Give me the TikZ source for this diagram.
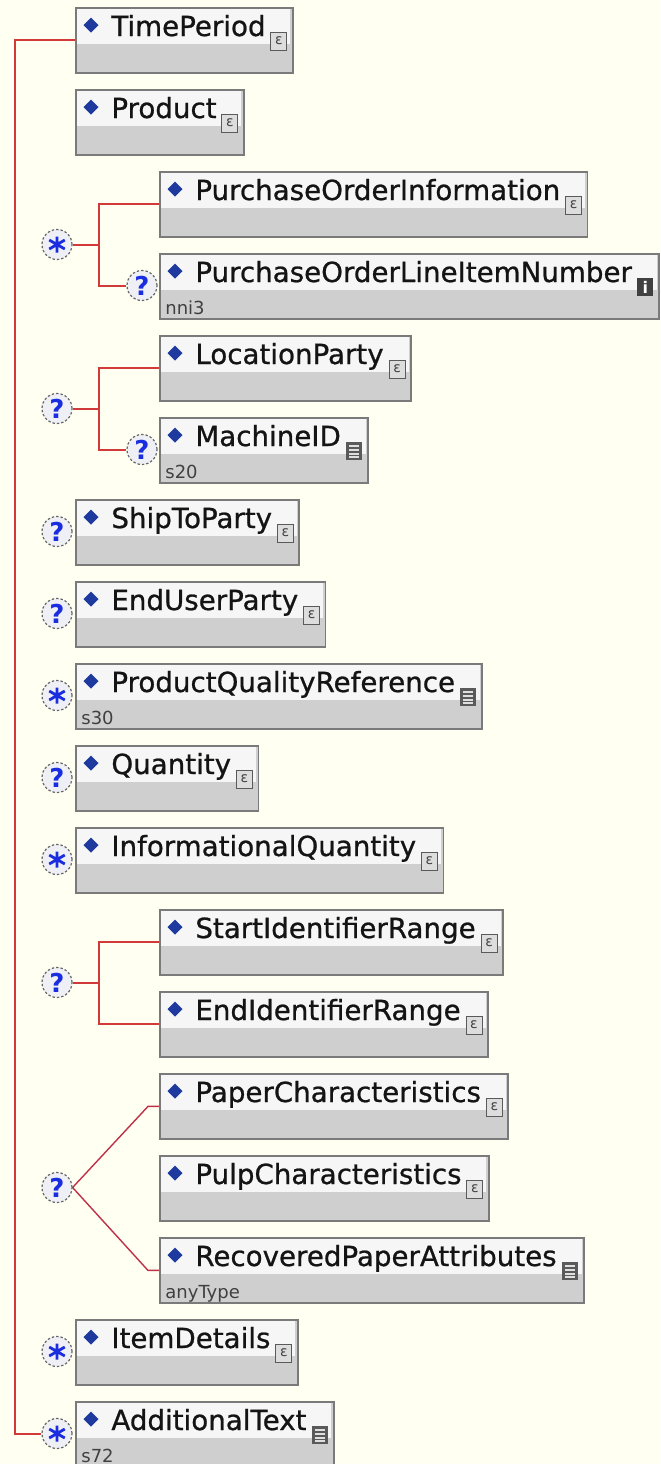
\documentclass[tikz,border=0pt]{standalone}
\usepackage{fontspec}
\setmainfont{DejaVu Sans}
\newfontfamily\ttlfont[FakeBold=0.8]{DejaVu Sans}
\usetikzlibrary{calc}
\definecolor{paperc}{HTML}{FFFFF2}
\definecolor{wirec}{HTML}{D23A3A}
\definecolor{cwirec}{HTML}{C03048}
\definecolor{boxborder}{HTML}{7A7A7A}
\definecolor{headc}{HTML}{F6F6F6}
\definecolor{bodyc}{HTML}{CFCFCF}
\definecolor{diac}{HTML}{1E3A9E}
\definecolor{sgnc}{HTML}{1A2EE0}
\definecolor{circc}{HTML}{EEF0F6}
\definecolor{subc}{HTML}{404040}
\definecolor{iconc}{HTML}{5A5A5A}
\pgfdeclarelayer{paper}\pgfdeclarelayer{wires}\pgfdeclarelayer{boxes}
\pgfsetlayers{paper,wires,boxes,main}
\newlength\ttlw
\tikzset{
 elbox/.style={draw=boxborder, line width=0.9pt, fill=bodyc, inner sep=0, anchor=north west},
 ttl/.style={font=\ttlfont\fontsize{13.85}{16}\selectfont, text=black!92, inner sep=0, anchor=base west},
 subt/.style={font=\fontsize{9}{10}\selectfont, text=subc, inner sep=0, anchor=base west},
 cmp/.style={circle, draw=gray!80!black, dash pattern=on 1.2pt off 1pt, line width=0.6pt, fill=circc, minimum size=15pt, inner sep=0},
 optc/.style={cmp, font=\bfseries\fontsize{13}{13}\selectfont, text=sgnc},
 wire/.style={draw=wirec, line width=1pt},
 cwire/.style={draw=cwirec, line width=0.7pt},
}
\newcommand\elicC[2]{%
 \filldraw[fill=bodyc!70!white, draw=iconc, line width=0.5pt] (#1,#2) rectangle ++(16,18);
 \node[font=\fontsize{7}{7}\selectfont, text=iconc!70!black, inner sep=0] at (#1+8,#2+9) {ɛ};}
\newcommand\elicS[2]{%
 \fill[iconc] (#1,#2) rectangle ++(16,18);
 \foreach \k in {4,8,12,15}{\draw[white!75!gray, line width=0.6pt] (#1+3,#2+\k) -- (#1+13,#2+\k);}}
\newcommand\elicI[2]{%
 \fill[black!75] (#1,#2) rectangle ++(16,18);
 \node[text=white, font=\bfseries\fontsize{8}{8}\selectfont, inner sep=0] at (#1+8,#2+9) {i};}
\newcommand\elem[6]{%
 \node[ttl] (#1-t) at (#2+36,#3+29) {#4};
 \pgfextractx{\ttlw}{\pgfpointanchor{#1-t}{east}}%
 \pgfmathsetmacro\bw{2*\ttlw+26-#2}%
 \begin{pgfonlayer}{boxes}
 \node[elbox, minimum width=\bw*0.5pt, minimum height=32.5pt] (#1) at (#2,#3) {};
 \fill[headc] (#2+1.5,#3+1.5) rectangle (#2+\bw-1.5,#3+37);
 \fill[diac] (#2+16,#3+10.5) -- (#2+23.5,#3+18) -- (#2+16,#3+25.5) -- (#2+8.5,#3+18) -- cycle;
 \end{pgfonlayer}
 \if\relax\detokenize{#5}\relax\else\node[subt] (#1-s) at (#2+6,#3+61) {#5};\fi
 \csname elic#6\endcsname{#2+\bw-21}{#3+25}%
}
\newcommand\starmark[1]{%
 \draw[sgnc, line width=1.4pt] ($(#1)+(0,-8)$) -- ($(#1)+(0,8)$)
   ($(#1)+(30:9)$) -- ($(#1)+(210:9)$)
   ($(#1)+(150:9)$) -- ($(#1)+(330:9)$);}
\begin{document}
\begin{tikzpicture}[x=0.5pt, y=-0.5pt]
\useasboundingbox (0,0) rectangle (660,1464);
\begin{pgfonlayer}{paper}\fill[paperc] (0,0) rectangle (660,1464);\end{pgfonlayer}
\elem{tp}{75}{7}{TimePeriod}{}{C}
\elem{prod}{75}{89}{Product}{}{C}
\elem{poi}{159}{171}{PurchaseOrderInformation}{}{C}
\elem{pol}{159}{253}{PurchaseOrderLineItemNumber}{nni3}{I}
\elem{loc}{159}{335}{LocationParty}{}{C}
\elem{mid}{159}{417}{MachineID}{s20}{S}
\elem{ship}{75}{499}{ShipToParty}{}{C}
\elem{endu}{75}{581}{EndUserParty}{}{C}
\elem{pqr}{75}{663}{ProductQualityReference}{s30}{S}
\elem{qty}{75}{745}{Quantity}{}{C}
\elem{iq}{75}{827}{InformationalQuantity}{}{C}
\elem{sir}{159}{909}{StartIdentifierRange}{}{C}
\elem{eir}{159}{991}{EndIdentifierRange}{}{C}
\elem{pch}{159}{1073}{PaperCharacteristics}{}{C}
\elem{pul}{159}{1155}{PulpCharacteristics}{}{C}
\elem{rpa}{159}{1237}{RecoveredPaperAttributes}{anyType}{S}
\elem{itd}{75}{1319}{ItemDetails}{}{C}
\elem{adt}{75}{1401}{AdditionalText}{s72}{S}
% compositor circles
\node[cmp] (poc) at (57,244.5) {}; \starmark{poc}
\node[optc] (polc) at (142,285.5) {?};
\node[optc] (locc) at (57,408.5) {?};
\node[optc] (midc) at (142,449.5) {?};
\node[optc] (shipc) at (57,531.5) {?};
\node[optc] (enduc) at (57,613.5) {?};
\node[cmp] (pqrc) at (57,695.5) {}; \starmark{pqrc}
\node[optc] (qtyc) at (57,777.5) {?};
\node[cmp] (iqc) at (57,859.5) {}; \starmark{iqc}
\node[optc] (rngc) at (57,982.5) {?};
\node[optc] (chc) at (57,1187.5) {?};
\node[cmp] (itdc) at (57,1351.5) {}; \starmark{itdc}
\node[cmp] (adtc) at (57,1433.5) {}; \starmark{adtc}
\coordinate (spx) at (15,0);
\coordinate (g1) at (99,244.5);
\coordinate (g2) at (99,408.5);
\coordinate (g3) at (99,982.5);
\coordinate (kx) at (148,0);
\begin{pgfonlayer}{wires}
\draw[wire] (tp.west) -- (tp.west -| spx) -- (adtc.west -| spx) -- (adtc.west);
\draw[wire] (poc.east) -- (g1);
\draw[wire] (poi.west) -| (g1) |- (polc.west);
\draw[wire] (locc.east) -- (g2);
\draw[wire] (loc.west) -| (g2) |- (midc.west);
\draw[wire] (rngc.east) -- (g3);
\draw[wire] (sir.west) -| (g3) |- (eir.west);
\draw[cwire] (pch.west) -- (pch.west -| kx) -- (chc.east) -- (rpa.west -| kx) -- (rpa.west);
\end{pgfonlayer}
\end{tikzpicture}
\end{document}
